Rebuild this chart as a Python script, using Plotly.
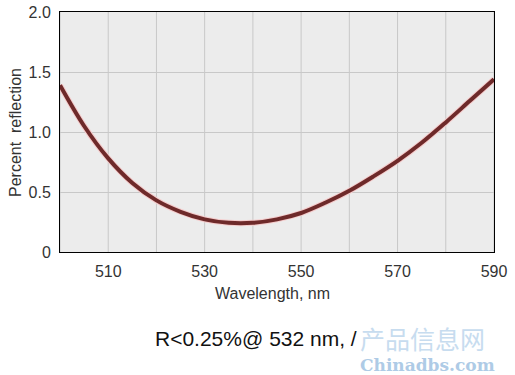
import plotly.graph_objects as go

wavelength = [500, 505, 510, 515, 520, 525, 530, 535, 540, 545, 550, 555, 560, 565, 570, 575, 580, 585, 590]
reflection = [1.39, 1.05, 0.78, 0.575, 0.43, 0.335, 0.272, 0.243, 0.243, 0.272, 0.325, 0.41, 0.51, 0.63, 0.76, 0.91, 1.08, 1.26, 1.44]
x_ticks = [510, 530, 550, 570, 590]
x_grid = list(range(500, 591, 10))
y_ticks = [0, 0.5, 1.0, 1.5, 2.0]
y_tick_text = ["0", "0.5", "1.0", "1.5", "2.0"]

FONT = "Liberation Sans, Arial, sans-serif"
TXT = "#333333"

fig = go.Figure()
fig.add_trace(go.Scatter(x=wavelength, y=reflection, mode="lines",
                         line=dict(color="#f5cccc", width=6, shape="spline"), hoverinfo="skip"))
fig.add_trace(go.Scatter(x=wavelength, y=reflection, mode="lines",
                         line=dict(color="#6e2a2a", width=4, shape="spline")))

fig.update_layout(
    width=515, height=375,
    margin=dict(l=60, r=21, t=12, b=123),
    paper_bgcolor="white", plot_bgcolor="#ececec",
    showlegend=False, font=dict(family=FONT, size=16, color=TXT),
    xaxis=dict(range=[500, 590], tickvals=x_ticks, showgrid=False, automargin=False,
               showline=True, linecolor="black", linewidth=1, mirror=True,
               ticks="", zeroline=False, ticklabelstandoff=5,
               tickfont=dict(size=16, color=TXT)),
    yaxis=dict(range=[0, 2], tickvals=y_ticks, ticktext=y_tick_text, automargin=False,
               gridcolor="#c8c8c8", gridwidth=1,
               showline=True, linecolor="black", linewidth=1, mirror=True,
               ticks="", zeroline=False, ticklabelstandoff=5,
               tickfont=dict(size=16, color=TXT)),
)
for xv in x_grid:
    fig.add_shape(type="line", x0=xv, x1=xv, y0=0, y1=2, xref="x", yref="y",
                  line=dict(color="#c8c8c8", width=1), layer="below")

# axis titles
fig.add_annotation(text="Wavelength, nm", xref="paper", yref="paper",
                   x=(272 - 60) / 434, y=-(293 - 252) / 240, xanchor="center", yanchor="middle",
                   showarrow=False, font=dict(family=FONT, size=16, color=TXT))
fig.add_annotation(text="Percent  reflection", xref="paper", yref="paper", textangle=-90,
                   x=-(60 - 15) / 434, y=(252 - 133) / 240, xanchor="center", yanchor="middle",
                   showarrow=False, font=dict(family=FONT, size=16, color=TXT))

fig.add_annotation(text="R<0.25%@ 532 nm, /", xref="paper", yref="paper",
                   x=(153 - 60) / 434, y=-(338 - 252) / 240, xanchor="left", yanchor="middle",
                   showarrow=False, font=dict(family=FONT, size=21, color="#111111"))
fig.add_annotation(text="产品信息网", xref="paper", yref="paper",
                   x=(358 - 60) / 434, y=-(338 - 252) / 240, xanchor="left", yanchor="middle",
                   showarrow=False, font=dict(family="Noto Sans CJK SC", size=25, color="#c7dcef"))
fig.add_annotation(text="<b>Chinadbs.com</b>", xref="paper", yref="paper",
                   x=(358 - 60) / 434, y=-(365 - 252) / 240, xanchor="left", yanchor="middle",
                   showarrow=False, font=dict(family="DejaVu Serif", size=17, color="#aecbe6"))

fig.write_html("out.html", config={"displayModeBar": False},
               post_script="document.body.style.margin='0';document.body.style.overflow='hidden';")
